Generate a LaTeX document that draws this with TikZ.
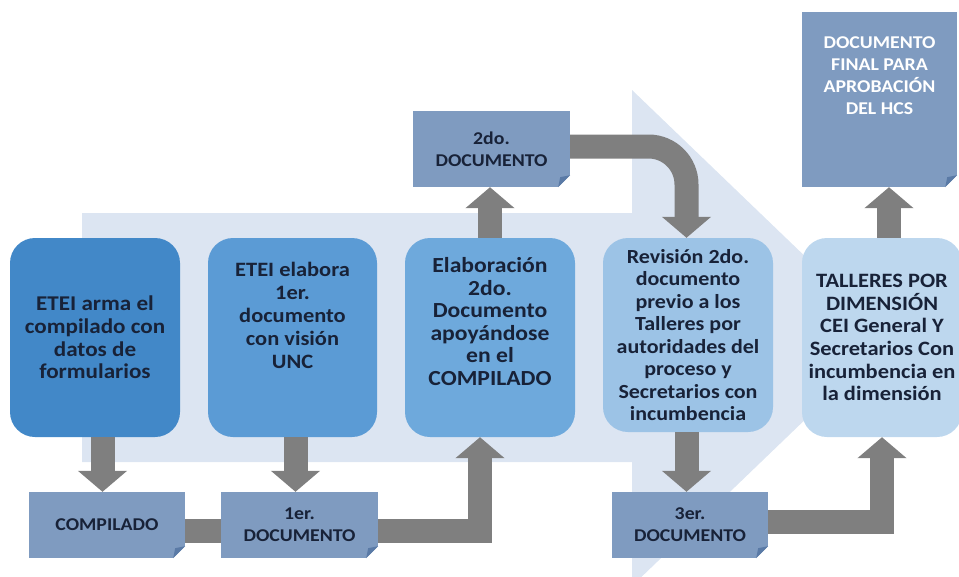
\documentclass[tikz,border=0pt]{standalone}
\usepackage{fontspec}
\setmainfont[FakeStretch=1.1]{Carlito}
\usepackage{tikz}
\usetikzlibrary{arrows.meta}

\definecolor{bgarrow}{HTML}{DCE5F2}
\definecolor{boxa}{HTML}{4288C8}
\definecolor{boxb}{HTML}{5B9BD5}
\definecolor{boxc}{HTML}{6EA9DC}
\definecolor{boxd}{HTML}{9CC3E6}
\definecolor{boxe}{HTML}{BDD7EE}
\definecolor{docfill}{HTML}{7F9BC0}
\definecolor{docfold}{HTML}{5A7AA6}
\definecolor{flowgray}{HTML}{7F7F7F}
\definecolor{darktext}{HTML}{182238}

\tikzset{
    stepbox/.style={rounded corners=25pt, inner sep=2pt, align=center, text=darktext,
        font=\fontsize{21}{22.8}\selectfont\bfseries},
    docbox/.style={fill=docfill, inner sep=2pt, align=center, text=darktext,
        font=\fontsize{18}{22}\selectfont\bfseries},
    flow/.style={draw=flowgray, line width=24pt,
        -{Triangle[width=48pt, length=21pt]}},
    bar/.style={draw=flowgray, line width=24pt},
}

\begin{document}
\begin{tikzpicture}[x=1pt, y=-1pt]
        \useasboundingbox (0,0) rectangle (959,576);
        \begin{scope}
            \clip (0,0) rectangle (959,576);
            \fill[bgarrow] (82,213) -- (632,213) -- (632,90) -- (890,338)
                -- (632,586) -- (632,462) -- (82,462) -- cycle;
        \end{scope}

        \node[stepbox, fill=boxa, minimum width=170pt, minimum height=199pt] (etei1) at (95,337.5)
            {ETEI arma el\\compilado con\\datos de\\formularios};
        \node[stepbox, fill=boxb, minimum width=169pt, minimum height=199pt,
            font=\fontsize{20.4}{22.9}\selectfont\bfseries] (etei2) at (292.5,337.5)
            {ETEI elabora\\1er.\\documento\\con visión\\UNC\\[21pt]};
        \node[stepbox, fill=boxc, minimum width=170pt, minimum height=199pt,
            font=\fontsize{21.5}{22.6}\selectfont\bfseries] (elab) at (490,337.5)
            {Elaboración\\2do.\\Documento\\apoyándose\\en el\\COMPILADO\\[9.4pt]};
        \node[stepbox, fill=boxd, minimum width=170pt, minimum height=194pt,
            font=\fontsize{20}{22.5}\selectfont\bfseries] (rev) at (688,335)
            {Revisión 2do.\\documento\\previo a los\\Talleres por\\autoridades del\\proceso y\\Secretarios con\\incumbencia};
        \node[stepbox, fill=boxe, minimum width=160pt, minimum height=199pt,
            font=\fontsize{20.4}{22.7}\selectfont\bfseries] (tall) at (882,337.5)
            {TALLERES POR\\DIMENSIÓN\\CEI General Y\\Secretarios Con\\incumbencia en\\la dimensión};

        \node[docbox, minimum width=156pt, minimum height=66pt] (comp) at (107,525) {COMPILADO};
        \node[docbox, minimum width=157pt, minimum height=66pt] (doc1) at (299.5,525) {1er.\\DOCUMENTO};
        \node[docbox, minimum width=157pt, minimum height=76pt] (doc2) at (491.5,149) {2do.\\DOCUMENTO};
        \node[docbox, minimum width=156pt, minimum height=66pt] (doc3) at (690,525) {3er.\\DOCUMENTO};
        \node[docbox, text=white, font=\fontsize{18}{21.8}\selectfont\bfseries,
            minimum width=155pt, minimum height=175pt] (docf) at (879.5,99.5)
            {DOCUMENTO\\FINAL PARA\\APROBACIÓN\\DEL HCS\\[26pt]};

        % folded corners
        \foreach \d in {comp,doc1,doc2,doc3,docf}{
            \fill[white] (\d.south east) -- ++(-12,0) -- ++(12,-12) -- cycle;
            \fill[docfold] ([xshift=-12pt]\d.south east) -- ([yshift=12pt]\d.south east)
                -- ([xshift=-10pt,yshift=10pt]\d.south east) -- cycle;
        }

        \draw[flow] ([xshift=7.5pt]etei1.south) -- ([xshift=-4.5pt]comp.north);
        \draw[flow] ([xshift=3pt]etei2.south) -- ([xshift=-4pt]doc1.north);
        \draw[bar] ([yshift=-5.5pt]comp.east) -- ([yshift=-5.5pt]doc1.west);
        \draw[flow] ([yshift=-5.5pt]doc1.east) -| ([xshift=-10pt]elab.south);
        \draw[flow] (elab.north) -- (elab.north |- doc2.south);
        \draw[flow, rounded corners=38pt] ([yshift=2.5pt]doc2.east) -| ([xshift=-1.5pt]rev.north);
        \draw[flow] ([xshift=-1.5pt]rev.south) -- ([xshift=-3.5pt]doc3.north);
        \draw[flow] ([yshift=3.5pt]doc3.east) -| (tall.south);
        \draw[flow] ([xshift=7pt]tall.north) -- ([xshift=9.5pt]docf.south);
    \end{tikzpicture}
\end{document}
